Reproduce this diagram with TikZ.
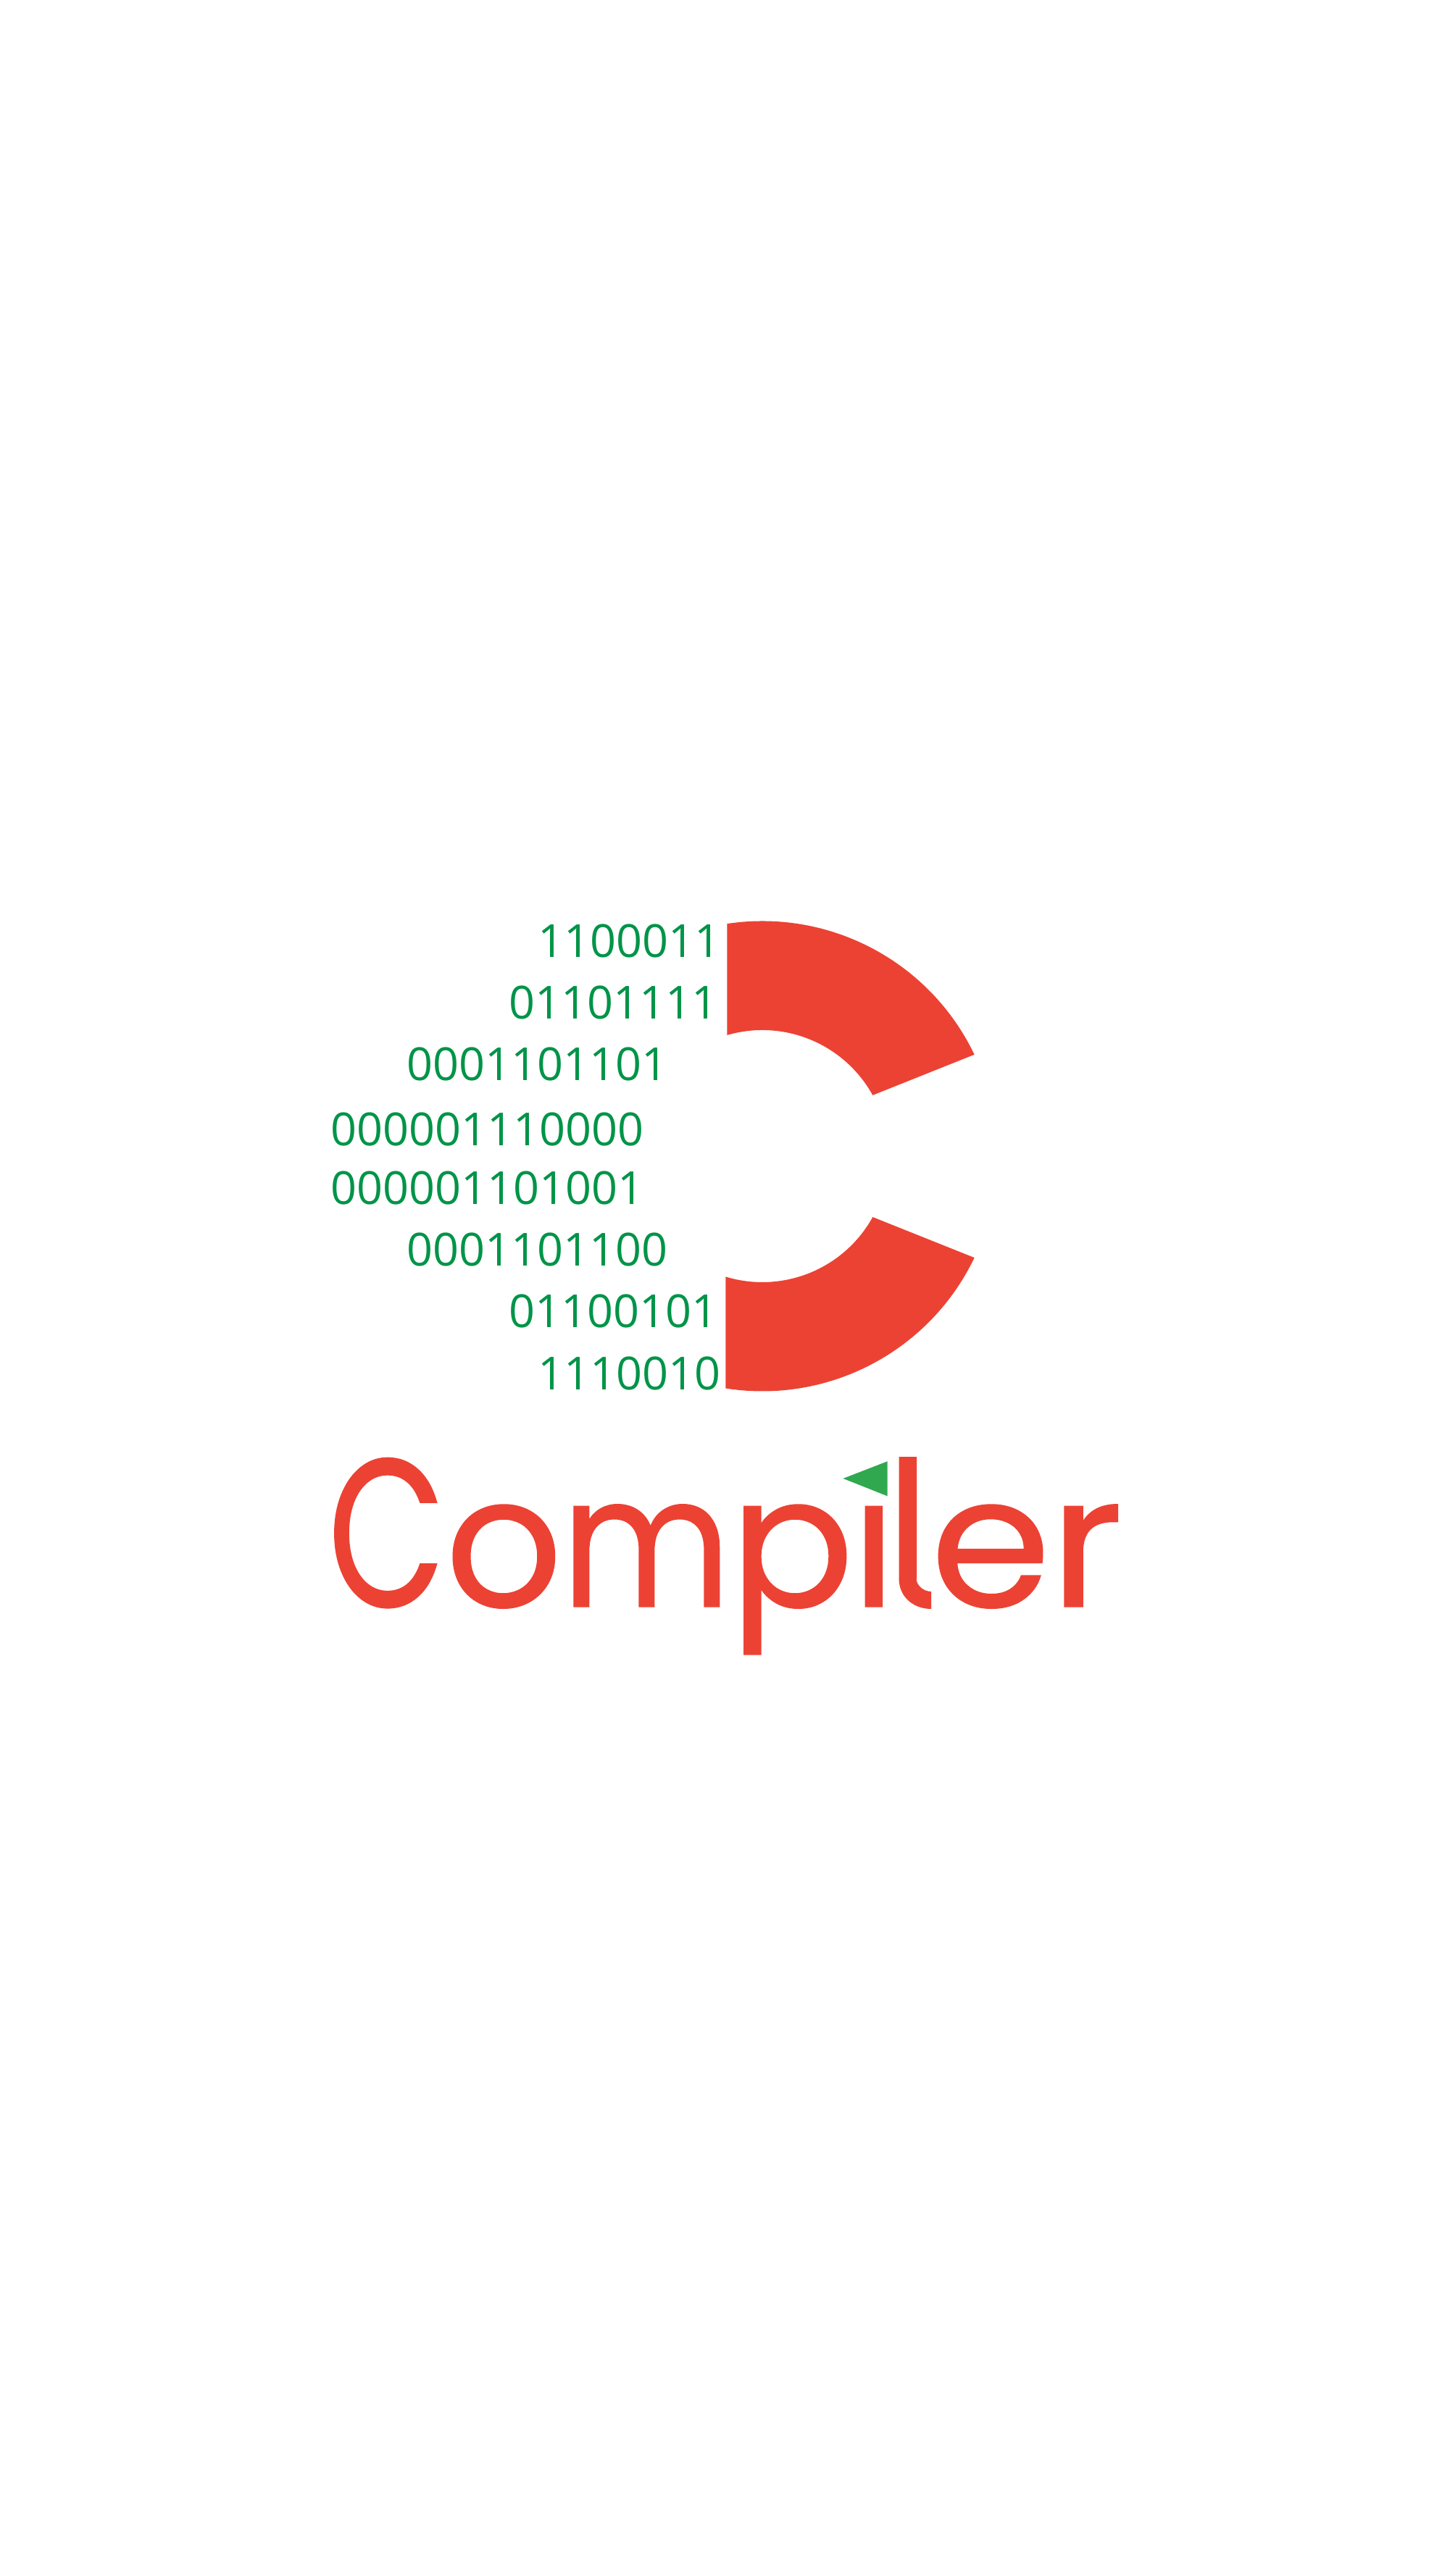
\documentclass[tikz,border=0pt]{standalone}
\usepackage{fontspec}
\usepackage{graphicx}
\usepackage{tikz}
\newfontfamily\bitsfont{Open Sans}
\newfontfamily\logofont[FakeBold=0.6]{Poppins}
\definecolor{logored}{RGB}{236,66,52}
\definecolor{bitgreen}{RGB}{0,148,72}
\definecolor{flaggreen}{RGB}{48,168,80}
\tikzstyle{bits} = [draw=none, text=bitgreen, inner sep=0pt, anchor=base west, font=\bitsfont\fontsize{17.9}{17.9}\selectfont]
\tikzstyle{wordmark} = [draw=none, text=logored, inner sep=0pt, anchor=base west, font=\logofont\fontsize{72}{72}\selectfont]
\newcommand{\lettercell}[2]{\makebox[#1cm][l]{#2}}

\begin{document}
\begin{tikzpicture}
		\useasboundingbox (0,0) rectangle (20,35.56);
		\coordinate (hub) at (10.52,19.6);
		
		\fill[logored] ([shift={(98.6:3.245)}]hub) arc[start angle=98.6, end angle=25.6, radius=3.245]
		-- ([shift={(28.9:1.74)}]hub) arc[start angle=28.9, end angle=106.2, radius=1.74] -- cycle;
		\fill[logored] ([shift={(-99:3.245)}]hub) arc[start angle=-99, end angle=-25.6, radius=3.245]
		-- ([shift={(-28.9:1.74)}]hub) arc[start angle=-28.9, end angle=-106.9, radius=1.74] -- cycle;
		
		\node[bits] (row1) at (7.42,22.34) {1100011};
		\node[bits] (row2) at (7.02,21.49) {01101111};
		\node[bits] (row3) at (5.61,20.64) {0001101101};
		\node[bits] (row4) at (4.56,19.74) {000001110000};
		\node[bits] (row5) at (4.56,18.93) {000001101001};
		\node[bits] (row6) at (5.61,18.08) {0001101100};
		\node[bits] (row7) at (7.02,17.23) {01100101};
		\node[bits] (row8) at (7.42,16.37) {1110010};
		
		\node[wordmark] (word) at (4.52,13.38) {\lettercell{1.617}{\scalebox{0.83}[1.15]{C}}\lettercell{1.60}{o}\lettercell{2.33}{\scalebox{0.9}[1]{m}}\lettercell{1.675}{p}\lettercell{0.47}{i}\lettercell{0.62}{\scalebox{1}[1.1]{l}}\lettercell{1.642}{\scalebox{1.06}[1]{e}}\scalebox{1.08}[1]{r}};
		
		\fill[white] (11.85,14.79) rectangle (12.3,15.6);
		\fill[flaggreen] (11.635,15.15) -- (12.246,15.387) -- (12.246,14.907) -- cycle;
		
		\fill[white] (12.35,13.3) rectangle (12.7,13.76);
		\fill[logored] (12.405,13.77) .. controls (12.405,13.52) and (12.6,13.35) .. (12.85,13.35) -- (12.85,13.59) .. controls (12.74,13.59) and (12.645,13.68) .. (12.645,13.77) -- cycle;
\end{tikzpicture}
\end{document}
